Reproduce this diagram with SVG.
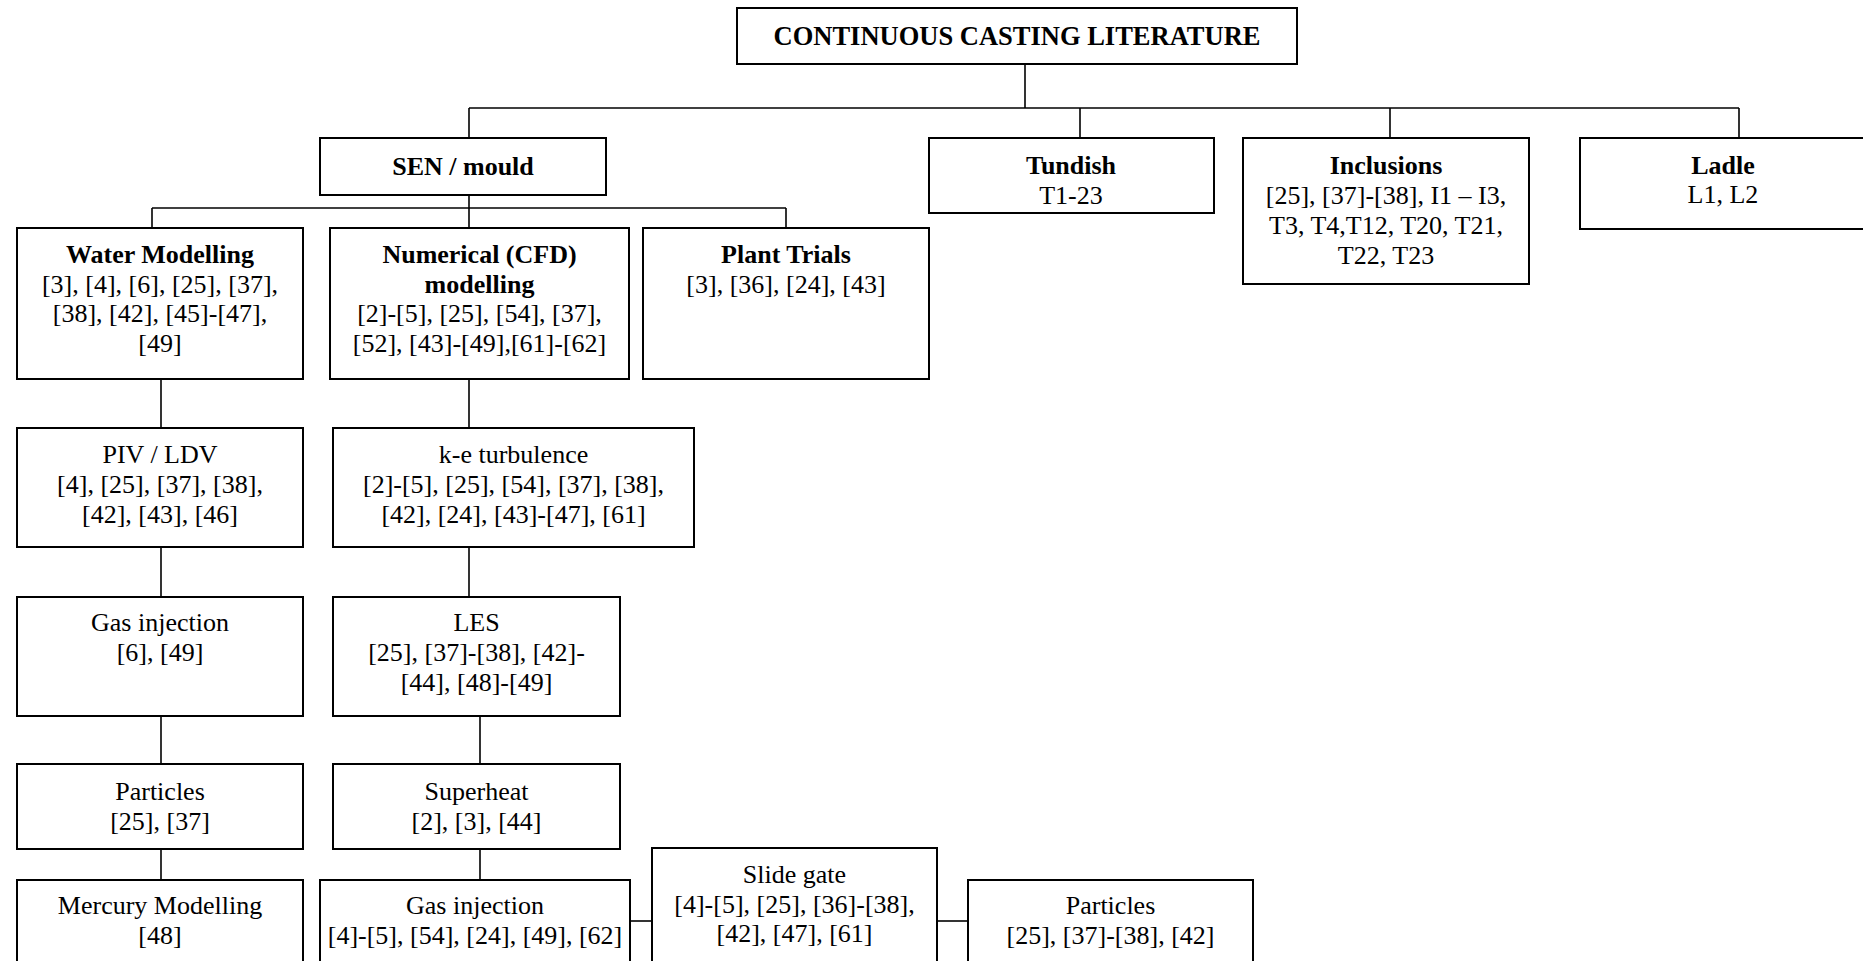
<svg xmlns="http://www.w3.org/2000/svg" width="1863" height="961" viewBox="0 0 1863 961">
<style>
rect{fill:#fff;stroke:#000;stroke-width:2}
.c line,.c path{stroke:#000;stroke-width:1.6;fill:none}
text{font-family:"Liberation Serif","Times New Roman",serif;font-size:26px;fill:#000;text-anchor:middle}
.b{font-weight:bold}
</style>
<rect x="0" y="0" width="1863" height="961" style="stroke:none"/>
<g class="c" id="connectors">
<line x1="1025" y1="64" x2="1025" y2="108"/>
<line x1="469" y1="108" x2="1739" y2="108"/>
<line x1="469" y1="108" x2="469" y2="138"/>
<line x1="1080" y1="108" x2="1080" y2="138"/>
<line x1="1390" y1="108" x2="1390" y2="138"/>
<line x1="1739" y1="108" x2="1739" y2="138"/>
<line x1="469" y1="195" x2="469" y2="228"/>
<line x1="152" y1="208" x2="786" y2="208"/>
<line x1="152" y1="208" x2="152" y2="228"/>
<line x1="786" y1="208" x2="786" y2="228"/>
<line x1="161" y1="379" x2="161" y2="428"/>
<line x1="469" y1="379" x2="469" y2="428"/>
<line x1="161" y1="547" x2="161" y2="597"/>
<line x1="469" y1="547" x2="469" y2="597"/>
<line x1="161" y1="716" x2="161" y2="764"/>
<line x1="480" y1="716" x2="480" y2="764"/>
<line x1="161" y1="849" x2="161" y2="880"/>
<line x1="480" y1="849" x2="480" y2="880"/>
<line x1="630" y1="921" x2="652" y2="921"/>
<line x1="937" y1="921" x2="968" y2="921"/>
</g>
<g id="root"><rect x="737" y="8" width="560" height="56"/><text class="b" x="1017" y="45" style="font-size:26.5px">CONTINUOUS CASTING LITERATURE</text></g>
<g id="sen"><rect x="320" y="138" width="286" height="57"/><text class="b" x="463" y="175">SEN / mould</text></g>
<g id="tundish"><rect x="929" y="138" width="285" height="75"/><text class="b" x="1071" y="174">Tundish</text><text x="1071" y="204">T1-23</text></g>
<g id="inclusions"><rect x="1243" y="138" width="286" height="146"/><text class="b" x="1386" y="174">Inclusions</text><text x="1386" y="204">[25], [37]-[38], I1 – I3,</text><text x="1386" y="234">T3, T4,T12, T20, T21,</text><text x="1386" y="264">T22, T23</text></g>
<g id="ladle"><rect x="1580" y="138" width="300" height="91"/><text class="b" x="1723" y="174">Ladle</text><text x="1723" y="203">L1, L2</text></g>
<g id="water"><rect x="17" y="228" width="286" height="151"/><text class="b" x="160" y="263">Water Modelling</text><text x="160" y="292.5">[3], [4], [6], [25], [37],</text><text x="160" y="322">[38], [42], [45]-[47],</text><text x="160" y="352">[49]</text></g>
<g id="numerical"><rect x="330" y="228" width="299" height="151"/><text class="b" x="479.5" y="263">Numerical (CFD)</text><text class="b" x="479.5" y="292.5">modelling</text><text x="479.5" y="322">[2]-[5], [25], [54], [37],</text><text x="479.5" y="352">[52], [43]-[49],[61]-[62]</text></g>
<g id="plant"><rect x="643" y="228" width="286" height="151"/><text class="b" x="786" y="263">Plant Trials</text><text x="786" y="292.5">[3], [36], [24], [43]</text></g>
<g id="piv"><rect x="17" y="428" width="286" height="119"/><text x="160" y="463">PIV / LDV</text><text x="160" y="493">[4], [25], [37], [38],</text><text x="160" y="523">[42], [43], [46]</text></g>
<g id="ke"><rect x="333" y="428" width="361" height="119"/><text x="513.5" y="463">k-e turbulence</text><text x="513.5" y="493">[2]-[5], [25], [54], [37], [38],</text><text x="513.5" y="523">[42], [24], [43]-[47], [61]</text></g>
<g id="gas1"><rect x="17" y="597" width="286" height="119"/><text x="160" y="631">Gas injection</text><text x="160" y="660.5">[6], [49]</text></g>
<g id="les"><rect x="333" y="597" width="287" height="119"/><text x="476.5" y="631">LES</text><text x="476.5" y="660.5">[25], [37]-[38], [42]-</text><text x="476.5" y="690.5">[44], [48]-[49]</text></g>
<g id="particles1"><rect x="17" y="764" width="286" height="85"/><text x="160" y="800">Particles</text><text x="160" y="829.5">[25], [37]</text></g>
<g id="superheat"><rect x="333" y="764" width="287" height="85"/><text x="476.5" y="800">Superheat</text><text x="476.5" y="829.5">[2], [3], [44]</text></g>
<g id="mercury"><rect x="17" y="880" width="286" height="100"/><text x="160" y="914">Mercury Modelling</text><text x="160" y="943.5">[48]</text></g>
<g id="gas2"><rect x="320" y="880" width="310" height="100"/><text x="475" y="914">Gas injection</text><text x="475" y="943.5">[4]-[5], [54], [24], [49], [62]</text></g>
<g id="slidegate"><rect x="652" y="848" width="285" height="130"/><text x="794.5" y="883">Slide gate</text><text x="794.5" y="912.5">[4]-[5], [25], [36]-[38],</text><text x="794.5" y="942">[42], [47], [61]</text></g>
<g id="particles2"><rect x="968" y="880" width="285" height="100"/><text x="1110.5" y="914">Particles</text><text x="1110.5" y="943.5">[25], [37]-[38], [42]</text></g>
</svg>
